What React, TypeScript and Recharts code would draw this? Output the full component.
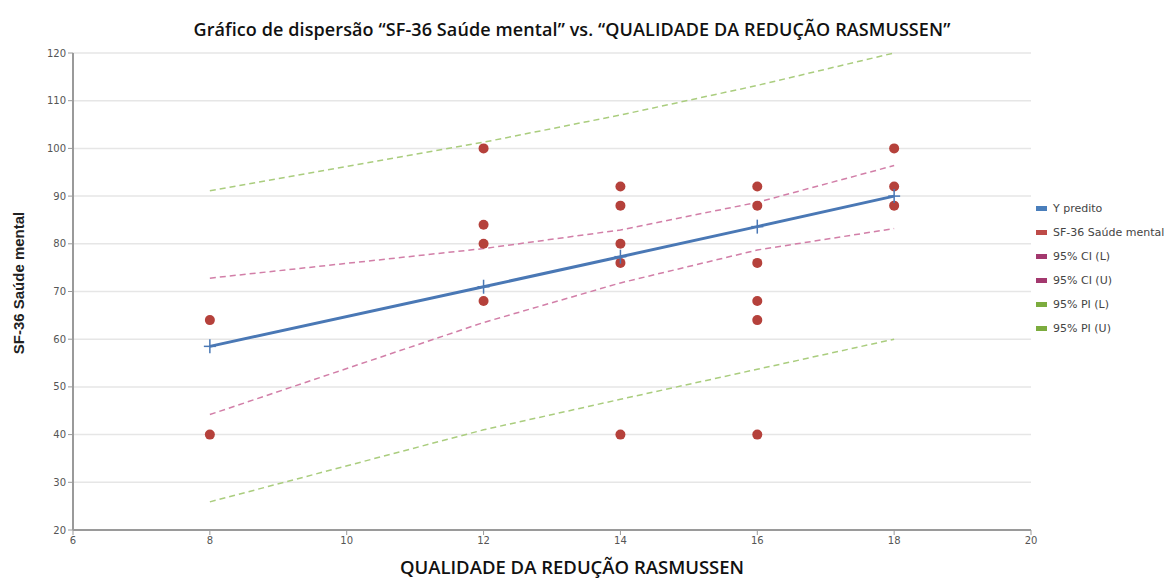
import React from 'react';
import { ScatterChart, Scatter, XAxis, YAxis, CartesianGrid } from 'recharts';

const xTicks = [6, 8, 10, 12, 14, 16, 18, 20];
const yTicks = [20, 30, 40, 50, 60, 70, 80, 90, 100, 110, 120];

const observed = [
  { x: 8, y: 64 }, { x: 8, y: 40 },
  { x: 12, y: 100 }, { x: 12, y: 84 }, { x: 12, y: 80 }, { x: 12, y: 68 },
  { x: 14, y: 92 }, { x: 14, y: 88 }, { x: 14, y: 80 }, { x: 14, y: 76 }, { x: 14, y: 40 },
  { x: 16, y: 92 }, { x: 16, y: 88 }, { x: 16, y: 76 }, { x: 16, y: 68 }, { x: 16, y: 64 }, { x: 16, y: 40 },
  { x: 18, y: 100 }, { x: 18, y: 92 }, { x: 18, y: 88 },
];

const fitX = [8, 12, 14, 16, 18];
const predicted = [58.5, 71.0, 77.3, 83.6, 90.0];
const ciLower = [44.2, 63.5, 71.8, 78.7, 83.2];
const ciUpper = [72.8, 79.0, 82.9, 88.7, 96.4];
const piLower = [25.9, 41.0, 47.4, 53.7, 60.0];
const piUpper = [91.1, 101.3, 107.0, 113.2, 120.0];

const toPts = (ys: number[]) => fitX.map((x, i) => ({ x, y: ys[i] }));

const legendItems = [
  { name: 'Y predito', color: '#4a7ebb' },
  { name: 'SF-36 Saúde mental', color: '#be4b48' },
  { name: '95% CI (L)', color: '#a3386e' },
  { name: '95% CI (U)', color: '#a3386e' },
  { name: '95% PI (L)', color: '#7cac3e' },
  { name: '95% PI (U)', color: '#7cac3e' },
];

const Dot = (p: any) => <circle cx={p.cx} cy={p.cy} r={5} fill="#b5413b" />;
const Plus = (p: any) => (
  <g stroke="#4a78b5" strokeWidth={1.5}>
    <line x1={p.cx - 6} x2={p.cx + 6} y1={p.cy} y2={p.cy} />
    <line x1={p.cx} x2={p.cx} y1={p.cy - 7} y2={p.cy + 7} />
  </g>
);
const None = () => null;

const tickStyle = { fontSize: 10, fill: '#555', fontFamily: 'DejaVu Sans' };

export default function App() {
  return (
    <div style={{ position: 'relative', width: 1164, height: 572 }}>
      <div style={{ position: 'absolute', left: 0, width: 1128, top: 9, textAlign: 'center', fontFamily: 'Open Sans', fontWeight: 600, fontSize: 18, letterSpacing: 0.1, color: '#111', whiteSpace: 'nowrap' }}>
        Gráfico de dispersão “SF-36 Saúde mental” vs. “QUALIDADE DA REDUÇÃO RASMUSSEN”
      </div>
      <div style={{ position: 'absolute', left: 0, width: 1128, top: 546, textAlign: 'center', fontFamily: 'Open Sans', fontWeight: 600, fontSize: 18.5, color: '#111', whiteSpace: 'nowrap' }}>
        QUALIDADE DA REDUÇÃO RASMUSSEN
      </div>
      <div style={{ position: 'absolute', left: 10, top: 275, width: 0, height: 0 }}>
        <div style={{ position: 'absolute', transform: 'translate(-50%, -50%) rotate(-90deg)', whiteSpace: 'nowrap', fontFamily: 'Liberation Sans', fontWeight: 700, fontSize: 15, color: '#222' }}>
          SF-36 Saúde mental
        </div>
      </div>
      <div style={{ position: 'absolute', left: 1028, top: 188 }}>
        {legendItems.map((it) => (
          <div key={it.name} style={{ display: 'flex', alignItems: 'center', height: 24, fontFamily: 'DejaVu Sans', fontSize: 11, color: '#444', whiteSpace: 'nowrap' }}>
            <span style={{ display: 'inline-block', width: 11, height: 5, background: it.color, marginRight: 6 }} />
            {it.name}
          </div>
        ))}
      </div>
      <ScatterChart width={1164} height={572} margin={{ top: 45, right: 141, bottom: 30, left: 20 }}>
        <CartesianGrid vertical={false} stroke="#e6e6e6" strokeWidth={1.5} />
        <XAxis type="number" dataKey="x" domain={[6, 20]} ticks={xTicks} height={20} tick={tickStyle}
          axisLine={{ stroke: '#9a9a9a', strokeWidth: 2 }} tickLine={{ stroke: '#9a9a9a' }} tickSize={5} />
        <YAxis type="number" dataKey="y" domain={[20, 120]} ticks={yTicks} width={45} tick={tickStyle}
          axisLine={{ stroke: '#9a9a9a', strokeWidth: 2 }} tickLine={{ stroke: '#9a9a9a' }} tickSize={5} />
        <Scatter data={toPts(piUpper)} line={{ stroke: '#aacd7e', strokeWidth: 1.5, strokeDasharray: '6 4' }} shape={None} isAnimationActive={false} />
        <Scatter data={toPts(piLower)} line={{ stroke: '#aacd7e', strokeWidth: 1.5, strokeDasharray: '6 4' }} shape={None} isAnimationActive={false} />
        <Scatter data={toPts(ciUpper)} line={{ stroke: '#d27fa8', strokeWidth: 1.5, strokeDasharray: '6 4' }} shape={None} isAnimationActive={false} />
        <Scatter data={toPts(ciLower)} line={{ stroke: '#d27fa8', strokeWidth: 1.5, strokeDasharray: '6 4' }} shape={None} isAnimationActive={false} />
        <Scatter data={observed} shape={Dot} isAnimationActive={false} />
        <Scatter data={toPts(predicted)} line={{ stroke: '#4a78b5', strokeWidth: 3 }} shape={Plus} isAnimationActive={false} />
      </ScatterChart>
    </div>
  );
}
